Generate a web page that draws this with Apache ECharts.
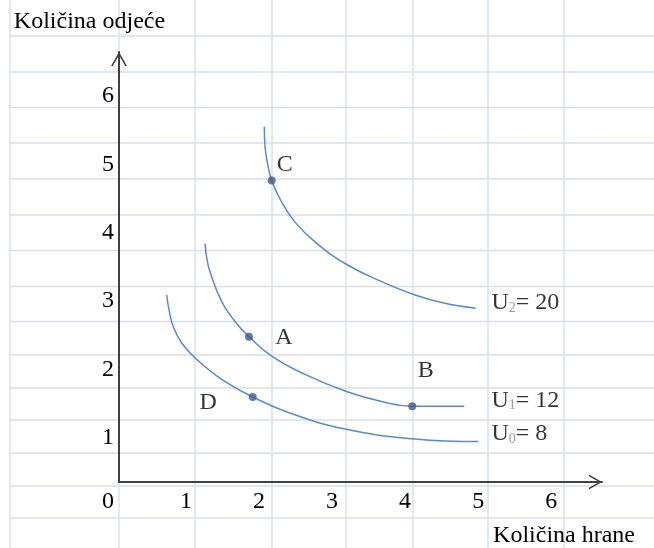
<!DOCTYPE html>
<html>
<head>
<meta charset="utf-8">
<script src="https://cdn.jsdelivr.net/npm/echarts@6/dist/echarts.min.js"></script>
<style>
  html, body { margin: 0; padding: 0; background: #fff; }
  #main { width: 654px; height: 548px; }
</style>
</head>
<body>
<div id="main"></div>
<script>
// krivulje indiferencije: [hrana, odjeca]
const curveU0 = [[0.653, 3.087], [0.689, 2.846], [0.750, 2.603], [0.859, 2.385], [1.041, 2.167], [1.406, 1.851], [1.831, 1.595], [2.318, 1.367], [3.095, 1.124], [4.053, 0.979], [4.920, 0.941]];
const curveU1 = [[1.178, 3.839], [1.201, 3.635], [1.246, 3.427], [1.406, 2.991], [1.588, 2.700], [1.780, 2.476], [2.091, 2.191], [2.547, 1.924], [3.095, 1.682], [3.597, 1.527], [4.016, 1.458], [4.728, 1.458]];
const curveU2 = [[1.990, 5.550], [1.999, 5.268], [2.036, 5.002], [2.091, 4.765], [2.228, 4.445], [2.410, 4.154], [2.684, 3.864], [3.095, 3.548], [3.597, 3.282], [4.053, 3.087], [4.464, 2.966], [4.884, 2.894]];

// tocke na krivuljama
const pointNames = ['A', 'B', 'C', 'D'];
const pointX = [1.780, 4.016, 2.091, 1.831];
const pointY = [2.476, 1.458, 4.765, 1.595];
// gdje stoje slova tocaka
const letterX = [2.26, 4.20, 2.27, 1.22];
const letterY = [2.46, 1.98, 5.00, 1.51];

// oznake krivulja U = ...
const curveIndex = ['0', '1', '2'];
const curveUtility = [8, 12, 20];
const curveLabelX = [5.10, 5.10, 5.10];
const curveLabelY = [1.05, 1.54, 2.97];

const tickValues = [0, 1, 2, 3, 4, 5, 6];
const yTickValues = [1, 2, 3, 4, 5, 6];

// pozadinska mreza (kao u tablici)
const sheetCols = [10, 119, 195, 272, 346, 413, 488, 564];
const sheetRows = [36, 72, 107.5, 143, 179, 215, 250.5, 286.5, 321.5, 355, 388, 420, 453, 486, 518];

const font = 'Liberation Serif';
const fs = 24;
const curveColor = '#5b8ac6';
const dotColor = '#3a5d8c';
const axisColor = '#404040';
const arrow = 'path://M0,14 L8,0 L16,14 L14.2,14 L8,3.15 L1.8,14 Z';

let chart = echarts.init(document.getElementById('main'));

let graphics = [];
sheetCols.forEach(function (x) {
  graphics.push({ type: 'line', z: -1, silent: true, shape: { x1: x, y1: 0, x2: x, y2: 548 }, style: { stroke: '#d9dee8', lineWidth: 1.4 } });
});
sheetRows.forEach(function (y) {
  graphics.push({ type: 'line', z: -1, silent: true, shape: { x1: 10, y1: y, x2: 654, y2: y }, style: { stroke: '#d9dee8', lineWidth: 1.4 } });
});

function curveSeries(name, data) {
  return {
    name: name,
    type: 'line',
    data: data,
    smooth: 0.45,
    showSymbol: false,
    lineStyle: { color: curveColor, width: 1.5 },
    z: 3
  };
}

let option = {
  animation: false,
  backgroundColor: '#fff',
  graphic: graphics,
  grid: { left: 119, right: 52, top: 52, bottom: 63 },
  xAxis: {
    type: 'value',
    min: 0,
    max: 6.614,
    name: 'Količina hrane',
    nameLocation: 'end',
    nameGap: 33,
    nameTextStyle: { fontFamily: font, fontSize: fs, color: '#000', align: 'right', verticalAlign: 'top', padding: [42, 0, 0, 0] },
    axisLine: {
      onZero: false,
      symbol: ['none', arrow],
      symbolSize: [18, 13],
      symbolOffset: [0, -6.5],
      lineStyle: { color: axisColor, width: 2 }
    },
    axisTick: { show: false },
    splitLine: { show: false },
    axisLabel: {
      customValues: tickValues,
      align: 'right',
      margin: 8,
      fontFamily: font,
      fontSize: fs,
      color: '#000',
      formatter: function (v) { return v === 0 ? '{z|0}' : String(v); },
      rich: { z: { fontFamily: font, fontSize: fs, color: '#000', padding: [0, 5, 0, 0] } }
    }
  },
  yAxis: {
    type: 'value',
    min: 0.349,
    max: 6.645,
    name: 'Količina odjeće',
    nameLocation: 'end',
    nameGap: 18,
    nameTextStyle: { fontFamily: font, fontSize: fs, color: '#000', align: 'center', padding: [0, 59, 0, 0] },
    axisLine: {
      onZero: false,
      symbol: ['none', arrow],
      symbolSize: [16, 14],
      symbolOffset: [0, -7],
      lineStyle: { color: axisColor, width: 2 }
    },
    axisTick: { show: false },
    splitLine: { show: false },
    axisLabel: {
      customValues: yTickValues,
      margin: 5,
      fontFamily: font,
      fontSize: fs,
      color: '#000'
    }
  },
  series: [
    curveSeries('U0', curveU0),
    curveSeries('U1', curveU1),
    curveSeries('U2', curveU2),
    {
      name: 'tocke',
      type: 'scatter',
      symbolSize: 8,
      itemStyle: { color: dotColor },
      data: pointX.map(function (x, i) { return [x, pointY[i]]; }),
      z: 4
    },
    {
      name: 'slova',
      type: 'scatter',
      symbolSize: 0,
      silent: true,
      data: letterX.map(function (x, i) { return { value: [x, letterY[i]], name: pointNames[i] }; }),
      label: {
        show: true,
        position: 'inside',
        formatter: '{b}',
        fontFamily: font,
        fontSize: fs,
        color: '#000'
      }
    },
    {
      name: 'oznake',
      type: 'scatter',
      symbolSize: 0,
      silent: true,
      data: curveLabelX.map(function (x, i) { return { value: [x, curveLabelY[i]], name: curveIndex[i] }; }),
      label: {
        show: true,
        position: 'right',
        distance: 0,
        formatter: function (p) {
          return '{u|U}{s|' + curveIndex[p.dataIndex] + '}{e|= ' + curveUtility[p.dataIndex] + '}';
        },
        rich: {
          u: { fontFamily: font, fontSize: fs, color: '#000', verticalAlign: 'bottom' },
          s: { fontFamily: font, fontSize: 14, color: '#8a7f72', verticalAlign: 'bottom' },
          e: { fontFamily: font, fontSize: fs, color: '#000', verticalAlign: 'bottom' }
        }
      }
    }
  ]
};
chart.setOption(option);
</script>
</body>
</html>
